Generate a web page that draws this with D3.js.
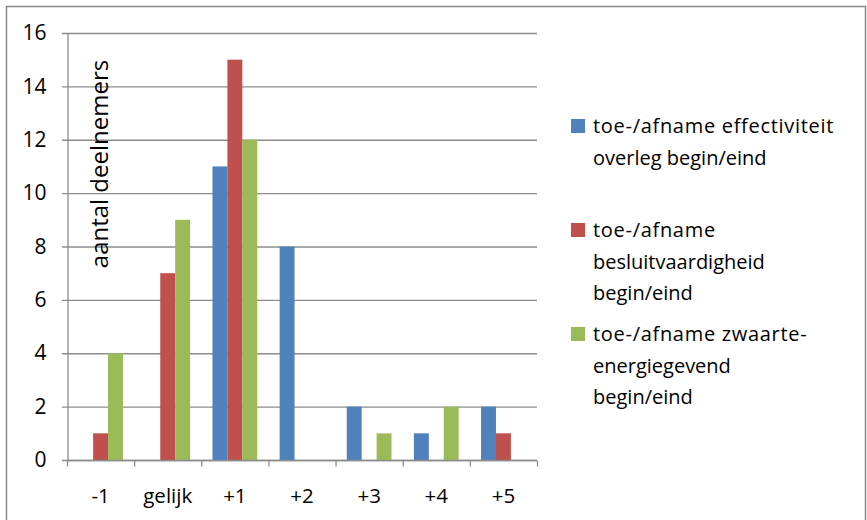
<!DOCTYPE html>
<html>
<head>
<meta charset="utf-8">
<script src="https://cdn.jsdelivr.net/npm/d3@7"></script>
<style>
  html, body { margin: 0; padding: 0; background: #fff; }
  svg { display: block; font-family: "Open Sans", sans-serif; }
</style>
</head>
<body>
<div id="chart"></div>
<script>
// categorieën op de x-as
const categories = ["-1", "gelijk", "+1", "+2", "+3", "+4", "+5"]
// reeksen
const seriesNames = [
  ["toe-/afname effectiviteit", "overleg begin/eind"],
  ["toe-/afname", "besluitvaardigheid", "begin/eind"],
  ["toe-/afname zwaarte-", "energiegevend", "begin/eind"],
]
const effectiviteit = [0, 0, 11, 8, 2, 1, 2]
const besluitvaardigheid = [1, 7, 15, 0, 0, 0, 1]
const zwaarte = [4, 9, 12, 0, 1, 2, 0]
const yTicks = [0, 2, 4, 6, 8, 10, 12, 14, 16]
const colors = ["#4F81BD", "#C0504D", "#9BBB59"]

const seriesValues = [effectiviteit, besluitvaardigheid, zwaarte]

const W = 867, H = 520

const svg = d3.select("#chart").append("svg").attr("width", W).attr("height", H)

// rand rond de grafiek
svg.append("rect")
  .attr("x", 6.5).attr("y", 6.5)
  .attr("width", 859).attr("height", 530)
  .attr("fill", "none").attr("stroke", "#8a8a8a").attr("stroke-width", 1.5)

// schalen (gap width 150% zoals in Excel)
const x0 = d3.scaleBand().domain(categories).range([67, 537])
const x1 = d3.scaleBand().domain(d3.range(3)).range([0, x0.bandwidth()]).paddingOuter(0.75)
const y = d3.scaleLinear().domain([0, 16]).range([460, 33])

// rasterlijnen
svg.append("g")
  .selectAll("line")
  .data(yTicks)
  .enter()
  .append("line")
  .attr("x1", 62).attr("x2", 537)
  .attr("y1", (d) => y(d) + 0.5).attr("y2", (d) => y(d) + 0.5)
  .attr("stroke", "#8c8c8c").attr("stroke-width", 1.3)

// y-as
const yAxis = svg.append("g")
  .attr("transform", "translate(67.5,0)")
  .call(d3.axisLeft(y).tickValues(yTicks).tickSize(0).tickPadding(21))
yAxis.select(".domain").attr("stroke", "#8c8c8c").attr("stroke-width", 1.3)
yAxis.selectAll("text").attr("font-size", 21).attr("fill", "#000")
  .attr("font-family", "Open Sans, sans-serif")

// staven
const data = []
categories.forEach((c, i) => {
  seriesValues.forEach((vals, s) => {
    data.push({ cat: c, s: s, v: vals[i] })
  })
})
svg.append("g")
  .selectAll("rect")
  .data(data.filter((d) => d.v > 0))
  .enter()
  .append("rect")
  .attr("x", (d) => x0(d.cat) + x1(d.s))
  .attr("width", x1.bandwidth())
  .attr("y", (d) => y(d.v))
  .attr("height", (d) => y(0) - y(d.v))
  .attr("fill", (d) => colors[d.s])

// x-as
const xAxis = svg.append("g")
  .attr("transform", "translate(0,460.5)")
xAxis.append("line")
  .attr("x1", 67).attr("x2", 537)
  .attr("stroke", "#8c8c8c").attr("stroke-width", 1.3)
const tickPos = categories.map((d) => x0(d)).concat([x0.range()[1]])
xAxis.selectAll(".tick")
  .data(tickPos)
  .enter()
  .append("line")
  .attr("x1", (d) => d + 0.5)
  .attr("x2", (d) => d + 0.5)
  .attr("y1", 0).attr("y2", 6)
  .attr("stroke", "#8c8c8c").attr("stroke-width", 1.3)
xAxis.selectAll("text")
  .data(categories)
  .enter()
  .append("text")
  .attr("x", (d) => x0(d) + x0.bandwidth() / 2)
  .attr("y", 42)
  .attr("text-anchor", "middle")
  .attr("font-size", 20.5)
  .text((d) => d)

// as-titel
svg.append("text")
  .attr("transform", "translate(108,164) rotate(-90)")
  .attr("text-anchor", "middle")
  .attr("font-size", 24)
  .text("aantal deelnemers")

// legenda
const legend = svg.append("g").attr("transform", "translate(571,0)")
seriesNames.forEach((lines, i) => {
  const top = 119 + i * 104
  legend.append("rect")
    .attr("x", 0).attr("y", top)
    .attr("width", 14).attr("height", 14)
    .attr("fill", colors[i])
  lines.forEach((t, j) => {
    legend.append("text")
      .attr("x", 22)
      .attr("y", top + 14 + j * 31.5)
      .attr("font-size", 20)
      .attr("letter-spacing", j === 0 ? 0.7 : 0)
      .text(t)
  })
})
</script>
</body>
</html>
